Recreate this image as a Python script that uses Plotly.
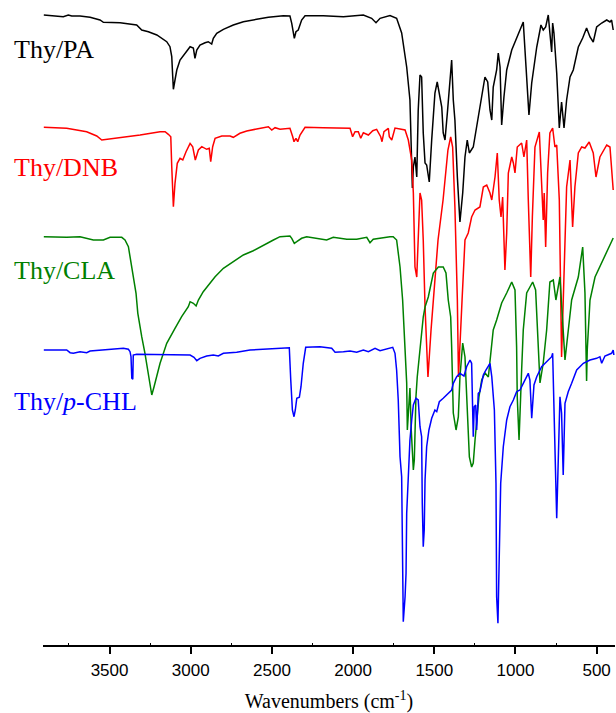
import plotly.graph_objects as go

# (wavenumber cm-1, relative transmittance, stacked offsets)
thy_pa = [(3905,630),(3866,629.3),(3785,628.3),(3754,630),(3733,629),(3682,629),(3620,627.7),(3559,625),(3538,622.7),(3435,622.3),(3333,620),(3302,615),(3261,613.3),(3209,610),(3148,603.3),(3128,598.3),(3117,588.3),(3111,568.3),(3107,555.7),(3097,565),(3086,575),(3066,585),(3035,591.7),(3004,598.3),(2984,597),(2974,586.7),(2963,595),(2943,600),(2912,602.3),(2892,603.3),(2871,601),(2861,606.7),(2840,611.7),(2799,615.7),(2738,620),(2676,623.3),(2594,625.7),(2522,627.7),(2430,629.3),(2389,629),(2378,621.7),(2368,611.7),(2362,606.7),(2352,613.3),(2338,615),(2317,625),(2296,629.3),(2184,629.3),(2060,628.3),(1937,630),(1886,626.7),(1859,622.3),(1834,626.7),(1773,629.5),(1732,626.7),(1701,612),(1670,578),(1650,545),(1639,495),(1635,457),(1629,478),(1619,488),(1608,468),(1599,535),(1588,570),(1578,568),(1568,512),(1557,482),(1547,480),(1531,463),(1516,505),(1496,552),(1482,563),(1465,547),(1454,538),(1445,512),(1434,505),(1418,535),(1403,568),(1393,585),(1383,545),(1373,525),(1358,468),(1342,423),(1325,452),(1311,488),(1297,505),(1284,492),(1260,498),(1235,522),(1208,550),(1188,568),(1171,563),(1157,535),(1146,525),(1137,558),(1116,575),(1106,592),(1095,578),(1085,520),(1071,548),(1054,575),(1023,595),(993,607),(952,623),(935,578),(917,530),(900,562),(869,598),(843,620),(829,615),(814,618),(798,630),(788,612),(777,593),(771,622),(763,612),(746,572),(730,517),(716,543),(701,517),(685,545),(664,568),(644,575),(613,598),(586,607),(562,617),(541,608),(521,603),(500,618),(469,622),(438,625),(418,623),(408,625),(398,615)]

thy_dnb = [(3905,517.7),(3764,516.7),(3641,513.3),(3579,509),(3548,505),(3435,507.3),(3312,510),(3189,513.3),(3158,513.3),(3138,510.7),(3123,508.3),(3117,478.3),(3111,445),(3107,438.3),(3097,461.7),(3083,481.7),(3066,486.7),(3049,485),(3029,493.3),(3004,501.7),(2988,498.3),(2972,485),(2953,495),(2932,498.3),(2902,495.7),(2886,496.7),(2877,483.3),(2865,498.3),(2850,506.7),(2809,509),(2758,509),(2738,507.7),(2697,511.7),(2655,514),(2594,516),(2522,518.3),(2501,515),(2481,517.3),(2450,515.7),(2389,516.7),(2372,508.3),(2364,503.3),(2352,506.7),(2341,503.3),(2327,510),(2296,517.7),(2184,517.3),(2019,516.7),(2003,508.3),(1988,513.3),(1968,513.3),(1953,506.7),(1937,512.3),(1906,510),(1879,514.3),(1855,515.7),(1830,508.3),(1822,503.3),(1810,513.3),(1783,516.7),(1777,508.3),(1762,505),(1742,517),(1680,515),(1660,505),(1639,485),(1629,452),(1619,378),(1608,368),(1599,412),(1588,452),(1578,445),(1568,405),(1557,338),(1539,268),(1520,315),(1496,365),(1477,405),(1446,445),(1416,495),(1399,508),(1387,498),(1373,438),(1358,345),(1351,268),(1339,315),(1329,345),(1311,405),(1291,412),(1270,428),(1249,435),(1219,438),(1198,458),(1177,460),(1157,452),(1146,445),(1126,468),(1112,492),(1100,445),(1089,428),(1079,448),(1065,375),(1054,412),(1044,472),(1023,488),(1013,482),(1003,472),(989,498),(962,502),(948,488),(931,505),(921,445),(906,368),(896,428),(880,498),(853,513),(839,452),(829,425),(823,452),(814,398),(802,472),(788,512),(771,517),(757,498),(746,500),(730,445),(716,288),(701,365),(685,458),(664,485),(648,418),(634,458),(613,492),(592,498),(572,497),(546,503),(521,492),(504,468),(480,488),(438,500),(418,498),(398,455)]

thy_cla = [(3905,408.3),(3764,407.7),(3682,408.3),(3641,406.7),(3600,405),(3538,405),(3497,407.7),(3425,407.7),(3405,405),(3384,398.3),(3368,381.7),(3354,365),(3337,351.7),(3326,331.7),(3312,315),(3302,308.3),(3282,291.7),(3261,271.7),(3240,250),(3226,258.3),(3209,268.3),(3189,281.7),(3148,301.7),(3117,311.7),(3097,316.7),(3056,328.3),(3015,338.3),(3004,343.3),(2984,341.7),(2967,339),(2953,345),(2923,353.3),(2881,361.7),(2850,368.3),(2799,376.7),(2738,383.3),(2676,390),(2615,394.3),(2553,400),(2491,405),(2450,408.3),(2389,409),(2378,406.7),(2362,401.7),(2347,403.3),(2317,406.7),(2286,408.3),(2224,406.7),(2163,405),(2122,407.7),(2039,405.7),(1978,405.7),(1916,407.7),(1896,402.3),(1876,405.7),(1773,408.3),(1753,408.3),(1732,405),(1711,378),(1695,345),(1680,298),(1670,262),(1666,215),(1658,238),(1650,257),(1642,215),(1629,175),(1623,185),(1613,248),(1605,268),(1588,298),(1568,328),(1557,338),(1537,348),(1506,372),(1475,378),(1445,378),(1428,372),(1414,345),(1399,328),(1393,298),(1383,232),(1366,215),(1352,228),(1342,268),(1325,302),(1311,288),(1297,238),(1284,188),(1270,178),(1260,182),(1249,205),(1239,225),(1225,248),(1208,265),(1188,272),(1167,268),(1137,315),(1116,325),(1085,342),(1054,352),(1023,363),(1003,355),(993,298),(989,248),(978,205),(962,275),(952,315),(931,352),(894,363),(876,355),(860,298),(849,262),(829,282),(808,315),(788,363),(767,365),(751,345),(726,368),(695,285),(654,345),(613,368),(586,398),(572,352),(562,264),(558,295),(541,345),(510,368),(459,385),(398,407)]

thy_pchl = [(3905,295),(3764,295),(3743,292.3),(3723,291.7),(3682,293.3),(3641,292.3),(3620,294),(3559,295),(3477,296),(3415,296.7),(3384,295.7),(3374,293.3),(3368,288.3),(3363,266.7),(3357,265.7),(3354,290),(3333,290.7),(3251,290.7),(3169,290),(3066,290.7),(3004,290),(2980,287.7),(2963,284.3),(2943,286.7),(2902,289),(2861,290),(2830,289),(2799,291.7),(2717,292.7),(2635,295),(2532,296),(2491,295.7),(2450,296.7),(2393,297.3),(2384,265),(2374,235),(2364,228.3),(2356,235),(2347,246.7),(2331,247.7),(2321,258.3),(2307,281.7),(2292,297.7),(2204,298.3),(2132,296.7),(2111,292.7),(2060,293.3),(2019,294),(1978,292.7),(1937,295),(1906,293.3),(1865,296.7),(1834,294.3),(1773,296.7),(1756,297.7),(1742,291.7),(1732,275),(1722,245),(1711,188.3),(1701,168.3),(1697,68.3),(1691,23.3),(1680,48.3),(1674,71.7),(1670,131.7),(1660,168.3),(1650,205),(1639,225),(1629,240),(1613,246.7),(1599,245),(1588,218.3),(1578,208.3),(1574,141.7),(1568,98.3),(1562,115),(1557,165),(1547,198.3),(1533,215),(1516,226.7),(1496,235),(1485,233.3),(1469,243.3),(1445,246.7),(1424,250),(1393,255),(1383,261.7),(1362,268.3),(1342,271.7),(1317,269),(1301,278.3),(1280,285),(1270,281.7),(1260,208.3),(1254,238.3),(1245,240),(1239,215),(1229,251.7),(1219,253.3),(1198,270),(1182,275),(1167,278.3),(1157,281.7),(1146,268.3),(1130,235),(1120,161.7),(1116,48.3),(1108,21.7),(1100,108.3),(1091,161.7),(1075,198.3),(1054,225),(1034,238.3),(1013,245),(993,253.3),(972,255),(952,261.7),(921,271.7),(911,265),(900,226.7),(886,260),(869,268.3),(839,278.3),(808,283.3),(777,288.3),(771,291.7),(763,248.3),(752,165),(746,126.7),(736,198.3),(726,248.3),(716,231.7),(706,170),(695,241.7),(675,253.3),(654,261.7),(623,275),(582,281.7),(541,285),(500,286.7),(480,288.3),(469,281.7),(449,289),(408,291.7),(398,295),(394,290)]

series_names = ["Thy/PA", "Thy/DNB", "Thy/CLA", "Thy/<i>p</i>-CHL"]
series_colors = ["#000000", "#ff0000", "#008000", "#0000ff"]
label_levels = [596, 478, 375, 244]
tick_values = [3500, 3000, 2500, 2000, 1500, 1000, 500]
tick_labels = ["3500", "3000", "2500", "2000", "1500", "1000", "500"]
minor_values = [3750, 3250, 2750, 2250, 1750, 1250, 750]

fig = go.Figure()
for data, name, color in zip([thy_pa, thy_dnb, thy_cla, thy_pchl], series_names, series_colors):
    xs = [p[0] for p in data]
    ys = [p[1] for p in data]
    fig.add_trace(go.Scatter(x=xs, y=ys, mode="lines", name=name, hoverinfo="skip",
                             line=dict(color=color, width=1.5), showlegend=False))

for name, color, level in zip(series_names, series_colors, label_levels):
    fig.add_annotation(x=-0.054, xref="paper", y=level, yref="y", text=name,
                       showarrow=False, xanchor="left", yanchor="middle",
                       font=dict(family="Liberation Serif", size=26, color=color))

fig.update_layout(
    width=616, height=713,
    margin=dict(l=43, r=1, t=0, b=68),
    plot_bgcolor="white", paper_bgcolor="white",
    xaxis=dict(range=[3910, 387], showgrid=False, zeroline=False,
               showline=True, linecolor="black", linewidth=2,
               ticks="outside", ticklen=7, tickwidth=2, tickcolor="black",
               tickvals=tick_values, ticktext=tick_labels, ticklabelstandoff=2,
               tickfont=dict(family="Liberation Sans", size=17, color="black"),
               minor=dict(tickvals=minor_values,
                          ticks="inside", ticklen=2, tickwidth=1, tickcolor="black"),
               title=dict(text="Wavenumbers (cm<sup>-1</sup>)", standoff=17,
                          font=dict(family="Liberation Serif", size=20, color="black")),
               automargin=False),
    yaxis=dict(range=[0, 645], visible=False, showgrid=False, zeroline=False),
)

fig.write_html("out.html", config={"displayModeBar": False},
               post_script="document.body.style.margin='0';document.body.style.overflow='hidden';")
